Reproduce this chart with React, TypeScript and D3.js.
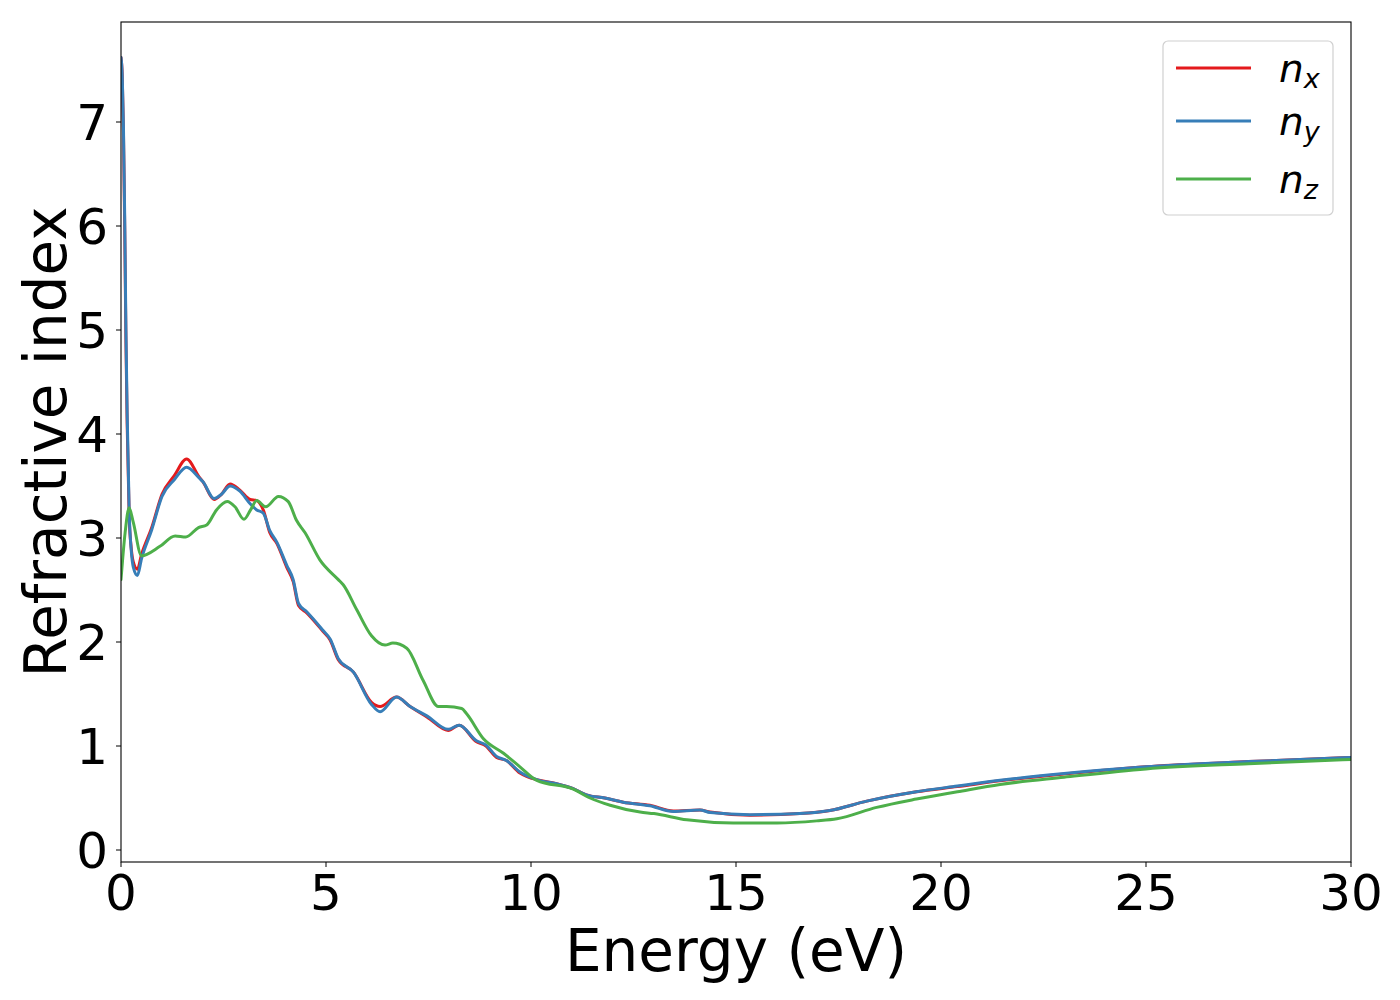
import React from "react";
import * as d3 from "d3";

// ---- Data ----
const energyXY = [0, 0.03, 0.06, 0.09, 0.12, 0.15, 0.2, 0.25, 0.3, 0.4, 0.5, 0.75, 1.0, 1.3, 1.6, 1.9, 2.0, 2.27, 2.45, 2.66, 2.9, 3.15, 3.31, 3.47, 3.63, 3.8, 4.04, 4.2, 4.33, 4.53, 4.93, 5.1, 5.3, 5.67, 6.11, 6.32, 6.72, 7.05, 7.46, 7.98, 8.25, 8.67, 8.9, 9.16, 9.4, 9.73, 10.2, 10.6, 11.03, 11.35, 11.8, 12.25, 12.9, 13.47, 14.12, 14.37, 15.34, 16.56, 17.29, 18.19, 19.4, 20.4, 21.44, 23, 25, 27.5, 30];
const nX = [7.62, 7.45, 6.9, 6.0, 4.9, 4.1, 3.2, 2.9, 2.77, 2.7, 2.84, 3.1, 3.42, 3.6, 3.76, 3.59, 3.54, 3.37, 3.42, 3.52, 3.46, 3.37, 3.36, 3.27, 3.05, 2.95, 2.72, 2.58, 2.35, 2.28, 2.1, 2.02, 1.83, 1.71, 1.42, 1.38, 1.47, 1.38, 1.28, 1.15, 1.2, 1.04, 1.0, 0.89, 0.86, 0.74, 0.67, 0.64, 0.59, 0.53, 0.5, 0.46, 0.43, 0.375, 0.385, 0.365, 0.335, 0.35, 0.38, 0.47, 0.56, 0.61, 0.665, 0.73, 0.8, 0.85, 0.89];
const nY = [7.62, 7.45, 6.95, 6.1, 5.0, 4.2, 3.25, 2.88, 2.72, 2.64, 2.8, 3.08, 3.4, 3.56, 3.68, 3.58, 3.54, 3.38, 3.42, 3.5, 3.45, 3.33, 3.27, 3.24, 3.07, 2.96, 2.74, 2.6, 2.37, 2.29, 2.11, 2.03, 1.84, 1.71, 1.4, 1.33, 1.47, 1.38, 1.29, 1.16, 1.2, 1.05, 1.01, 0.9, 0.86, 0.75, 0.67, 0.64, 0.59, 0.53, 0.5, 0.46, 0.425, 0.37, 0.385, 0.36, 0.34, 0.35, 0.38, 0.47, 0.56, 0.615, 0.67, 0.735, 0.8, 0.85, 0.89];
const energyZ = [0, 0.1, 0.2, 0.3, 0.5, 0.95, 1.32, 1.58, 1.89, 2.09, 2.33, 2.59, 2.78, 3.0, 3.16, 3.31, 3.53, 3.84, 4.08, 4.28, 4.49, 4.85, 5.3, 5.42, 5.75, 6.11, 6.44, 6.63, 6.97, 7.37, 7.74, 7.94, 8.31, 8.43, 8.84, 9.33, 9.73, 10.14, 11.03, 11.44, 11.93, 12.66, 13.0, 13.8, 14.93, 16.0, 16.97, 17.46, 18.43, 19.4, 20.4, 21.44, 23, 25, 27.5, 30];
const nZ = [2.6, 3.05, 3.29, 3.15, 2.83, 2.92, 3.02, 3.01, 3.1, 3.125, 3.27, 3.35, 3.3, 3.18, 3.27, 3.36, 3.3, 3.4, 3.35, 3.17, 3.05, 2.79, 2.6, 2.55, 2.31, 2.06, 1.97, 1.99, 1.94, 1.63, 1.38, 1.38, 1.36, 1.31, 1.07, 0.93, 0.8, 0.67, 0.585, 0.5, 0.43, 0.365, 0.35, 0.29, 0.26, 0.26, 0.28, 0.3, 0.41, 0.49, 0.56, 0.63, 0.7, 0.78, 0.83, 0.87];

const xTicks = [0, 5, 10, 15, 20, 25, 30];
const yTicks = [0, 1, 2, 3, 4, 5, 6, 7];
const seriesNames = ["x", "y", "z"];
const seriesColors = ["#e41a1c", "#377eb8", "#4daf4a"];

const xLabel = "Energy (eV)";
const yLabel = "Refractive index";

const W = 1400;
const H = 1000;
const plot = { left: 121, right: 1351, top: 22, bottom: 862 };
const FONT = "'DejaVu Sans', sans-serif";

export default function App() {
  const x = d3.scaleLinear().domain([0, 30]).range([plot.left, plot.right]);
  const y = d3
    .scaleLinear()
    .domain([-(862 - 850) / 104, (850 - 22) / 104])
    .range([plot.bottom, plot.top]);

  const series = [
    { e: energyXY, n: nX },
    { e: energyXY, n: nY },
    { e: energyZ, n: nZ },
  ];

  const line = d3
    .line<[number, number]>()
    .x((d) => x(d[0]))
    .y((d) => y(d[1]))
    .curve(d3.curveMonotoneX);

  const legendRows = [68, 121, 179];

  return (
    <svg
      width={W}
      height={H}
      style={{ position: "absolute", left: 0, top: 0, background: "#fff" }}
      fontFamily={FONT}
    >
      <defs>
        <clipPath id="plotclip">
          <rect x={plot.left} y={plot.top} width={plot.right - plot.left} height={plot.bottom - plot.top} />
        </clipPath>
      </defs>
      <rect x={0} y={0} width={W} height={H} fill="#fff" />

      <g clipPath="url(#plotclip)">
        {series.map((s, i) => (
          <path
            key={i}
            d={line(s.e.map((e, j) => [e, s.n[j]] as [number, number])) || ""}
            fill="none"
            stroke={seriesColors[i]}
            strokeWidth={3}
            strokeLinejoin="round"
            strokeLinecap="round"
          />
        ))}
      </g>

      {/* spines */}
      <rect
        x={plot.left}
        y={plot.top}
        width={plot.right - plot.left}
        height={plot.bottom - plot.top}
        fill="none"
        stroke="#000"
        strokeWidth={1.1}
      />

      {/* x ticks */}
      {xTicks.map((t) => (
        <g key={"xt" + t}>
          <line x1={x(t)} x2={x(t)} y1={plot.bottom} y2={plot.bottom + 5} stroke="#000" strokeWidth={1} />
          <text x={x(t)} y={910} textAnchor="middle" fontSize={50} fill="#000">
            {t}
          </text>
        </g>
      ))}

      {/* y ticks */}
      {yTicks.map((t) => (
        <g key={"yt" + t}>
          <line x1={plot.left - 5} x2={plot.left} y1={y(t)} y2={y(t)} stroke="#000" strokeWidth={1} />
          <text x={108} y={y(t) + 18} textAnchor="end" fontSize={50} fill="#000">
            {t}
          </text>
        </g>
      ))}

      {/* axis labels */}
      <text x={(plot.left + plot.right) / 2} y={971} textAnchor="middle" fontSize={58} fill="#000">
        {xLabel}
      </text>
      <text
        transform={`translate(66,${(plot.top + plot.bottom) / 2}) rotate(-90)`}
        textAnchor="middle"
        fontSize={58}
        fill="#000"
      >
        {yLabel}
      </text>

      {/* legend */}
      <rect x={1163} y={41} width={170} height={174} rx={5} fill="#fff" fillOpacity={0.8} stroke="#d0d0d0" strokeWidth={1.2} />
      {seriesNames.map((nm, i) => (
        <g key={"lg" + nm}>
          <line x1={1176} x2={1251} y1={legendRows[i]} y2={legendRows[i]} stroke={seriesColors[i]} strokeWidth={3} />
          <text x={1279} y={legendRows[i] + 14} fontSize={39} fontStyle="italic" fill="#000">
            n
            <tspan fontSize={27} dy={6}>
              {nm}
            </tspan>
          </text>
        </g>
      ))}
    </svg>
  );
}
